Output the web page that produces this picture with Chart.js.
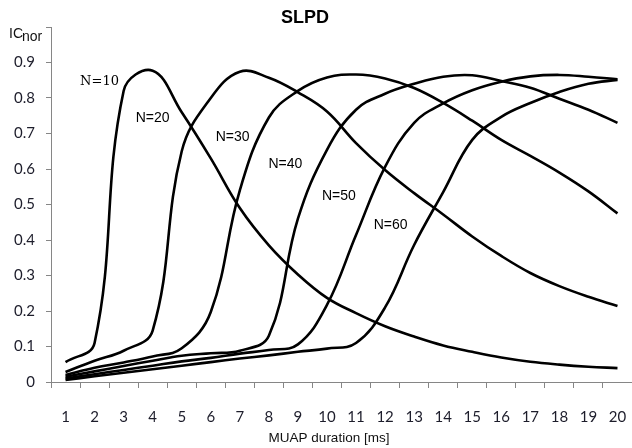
<!DOCTYPE html>
<html>
<head>
<meta charset="utf-8">
<script src="https://cdn.jsdelivr.net/npm/chart.js@4.4.1/dist/chart.umd.min.js"></script>
<style>
  html, body { margin: 0; padding: 0; background: #fff; }
  #wrap { width: 632px; height: 448px; }
</style>
</head>
<body>
<div id="wrap"><canvas id="chart" width="632" height="448"></canvas></div>
<script>
// MUAP duration in ms (category axis)
const durations = ['1', '2', '3', '4', '5', '6', '7', '8', '9', '10',
                   '11', '12', '13', '14', '15', '16', '17', '18', '19', '20'];

// normalised IC for each N
const icN10 = [0.056, 0.11, 0.82, 0.877, 0.76, 0.63, 0.49, 0.385, 0.303, 0.237,
               0.194, 0.157, 0.128, 0.103, 0.085, 0.069, 0.057, 0.049, 0.043, 0.039];
const icN20 = [0.028, 0.06, 0.088, 0.145, 0.65, 0.80, 0.874, 0.857, 0.816, 0.762,
               0.673, 0.597, 0.532, 0.472, 0.41, 0.355, 0.307, 0.27, 0.24, 0.214];
const icN30 = [0.02, 0.04, 0.055, 0.072, 0.095, 0.197, 0.54, 0.745, 0.82, 0.858,
               0.866, 0.855, 0.828, 0.786, 0.736, 0.682, 0.637, 0.59, 0.537, 0.475];
const icN40 = [0.015, 0.03, 0.045, 0.06, 0.074, 0.081, 0.088, 0.13, 0.46, 0.654,
               0.767, 0.812, 0.84, 0.86, 0.864, 0.848, 0.829, 0.798, 0.767, 0.73];
const icN50 = [0.01, 0.022, 0.034, 0.046, 0.058, 0.068, 0.08, 0.09, 0.106, 0.217,
               0.414, 0.606, 0.73, 0.785, 0.822, 0.846, 0.861, 0.865, 0.86, 0.853];
const icN60 = [0.006, 0.016, 0.026, 0.036, 0.046, 0.056, 0.066, 0.075, 0.085, 0.094,
               0.11, 0.21, 0.386, 0.535, 0.682, 0.747, 0.786, 0.817, 0.84, 0.851];

const seriesNames = ['N=10', 'N=20', 'N=30', 'N=40', 'N=50', 'N=60'];
const seriesData = [icN10, icN20, icN30, icN40, icN50, icN60];

// where each curve name sits, as [category index, IC value]
const tagAnchors = [[1.17, 0.846], [3.0, 0.744], [5.75, 0.69],
                    [7.57, 0.614], [9.41, 0.524], [11.19, 0.442]];

const axisGrey = '#868686';
const tickInk = '#1d1d2b';

const textLayer = {
  id: 'textLayer',
  afterDraw(chart) {
    const { ctx, scales: { x, y } } = chart;
    ctx.save();
    ctx.fillStyle = '#000';

    ctx.font = 'bold 18px "Liberation Sans", Arial, sans-serif';
    ctx.textAlign = 'center';
    ctx.textBaseline = 'middle';
    ctx.fillText('SLPD', 305, 18);

    // y axis caption IC with subscript
    ctx.textAlign = 'left';
    ctx.textBaseline = 'alphabetic';
    ctx.fillStyle = '#111';
    ctx.font = '14px "Liberation Sans", Arial, sans-serif';
    ctx.fillText('IC', 9, 38);
    ctx.fillText('nor', 22, 41);

    ctx.textAlign = 'center';
    ctx.textBaseline = 'middle';
    ctx.font = '13.5px "Liberation Sans", Arial, sans-serif';
    ctx.fillText('MUAP duration [ms]', 329, 438);

    // curve names
    seriesNames.forEach((name, i) => {
      const [ix, v] = tagAnchors[i];
      ctx.font = i === 0
        ? '13px "DejaVu Serif", serif'
        : '14px "Liberation Sans", Arial, sans-serif';
      ctx.fillStyle = '#000';
      ctx.fillText(name, x.getPixelForValue(ix), y.getPixelForValue(v));
    });
    ctx.restore();
  }
};

new Chart(document.getElementById('chart'), {
  type: 'line',
  data: {
    labels: durations,
    datasets: seriesData.map((vals, i) => ({
      label: seriesNames[i],
      data: vals,
      borderColor: '#000',
      borderWidth: 2.6,
      pointRadius: 0,
      tension: 0.4,
      fill: false
    }))
  },
  options: {
    responsive: false,
    animation: false,
    layout: { autoPadding: false, padding: { top: 27, right: 0, left: 0, bottom: 0 } },
    plugins: {
      legend: { display: false },
      title: { display: false },
      tooltip: { enabled: false }
    },
    scales: {
      x: {
        type: 'category',
        offset: true,
        grid: { display: true, offset: true, drawOnChartArea: false, tickLength: 6, color: axisGrey },
        border: { color: axisGrey },
        ticks: {
          autoSkip: false,
          maxRotation: 0,
          padding: 20,
          color: tickInk,
          font: { family: 'Lato, "Open Sans", sans-serif', size: 15 }
        },
        afterFit(scale) {
          scale.height = 66;
          // the label padding would otherwise squeeze the plot from the sides
          scale.paddingLeft = 0;
          scale.paddingRight = 0;
        }
      },
      y: {
        min: 0,
        max: 1,
        grid: { display: true, drawOnChartArea: false, tickLength: 5, color: axisGrey },
        border: { color: axisGrey },
        ticks: {
          stepSize: 0.1,
          padding: 11,
          color: tickInk,
          font: { family: 'Lato, "Open Sans", sans-serif', size: 15 },
          callback: v => (v > 0.95 ? '' : String(+v.toFixed(1)))
        },
        afterFit(scale) {
          scale.width = 51;
          scale.paddingTop = 0;
          scale.paddingBottom = 0;
        }
      }
    }
  },
  plugins: [textLayer]
});
</script>
</body>
</html>
